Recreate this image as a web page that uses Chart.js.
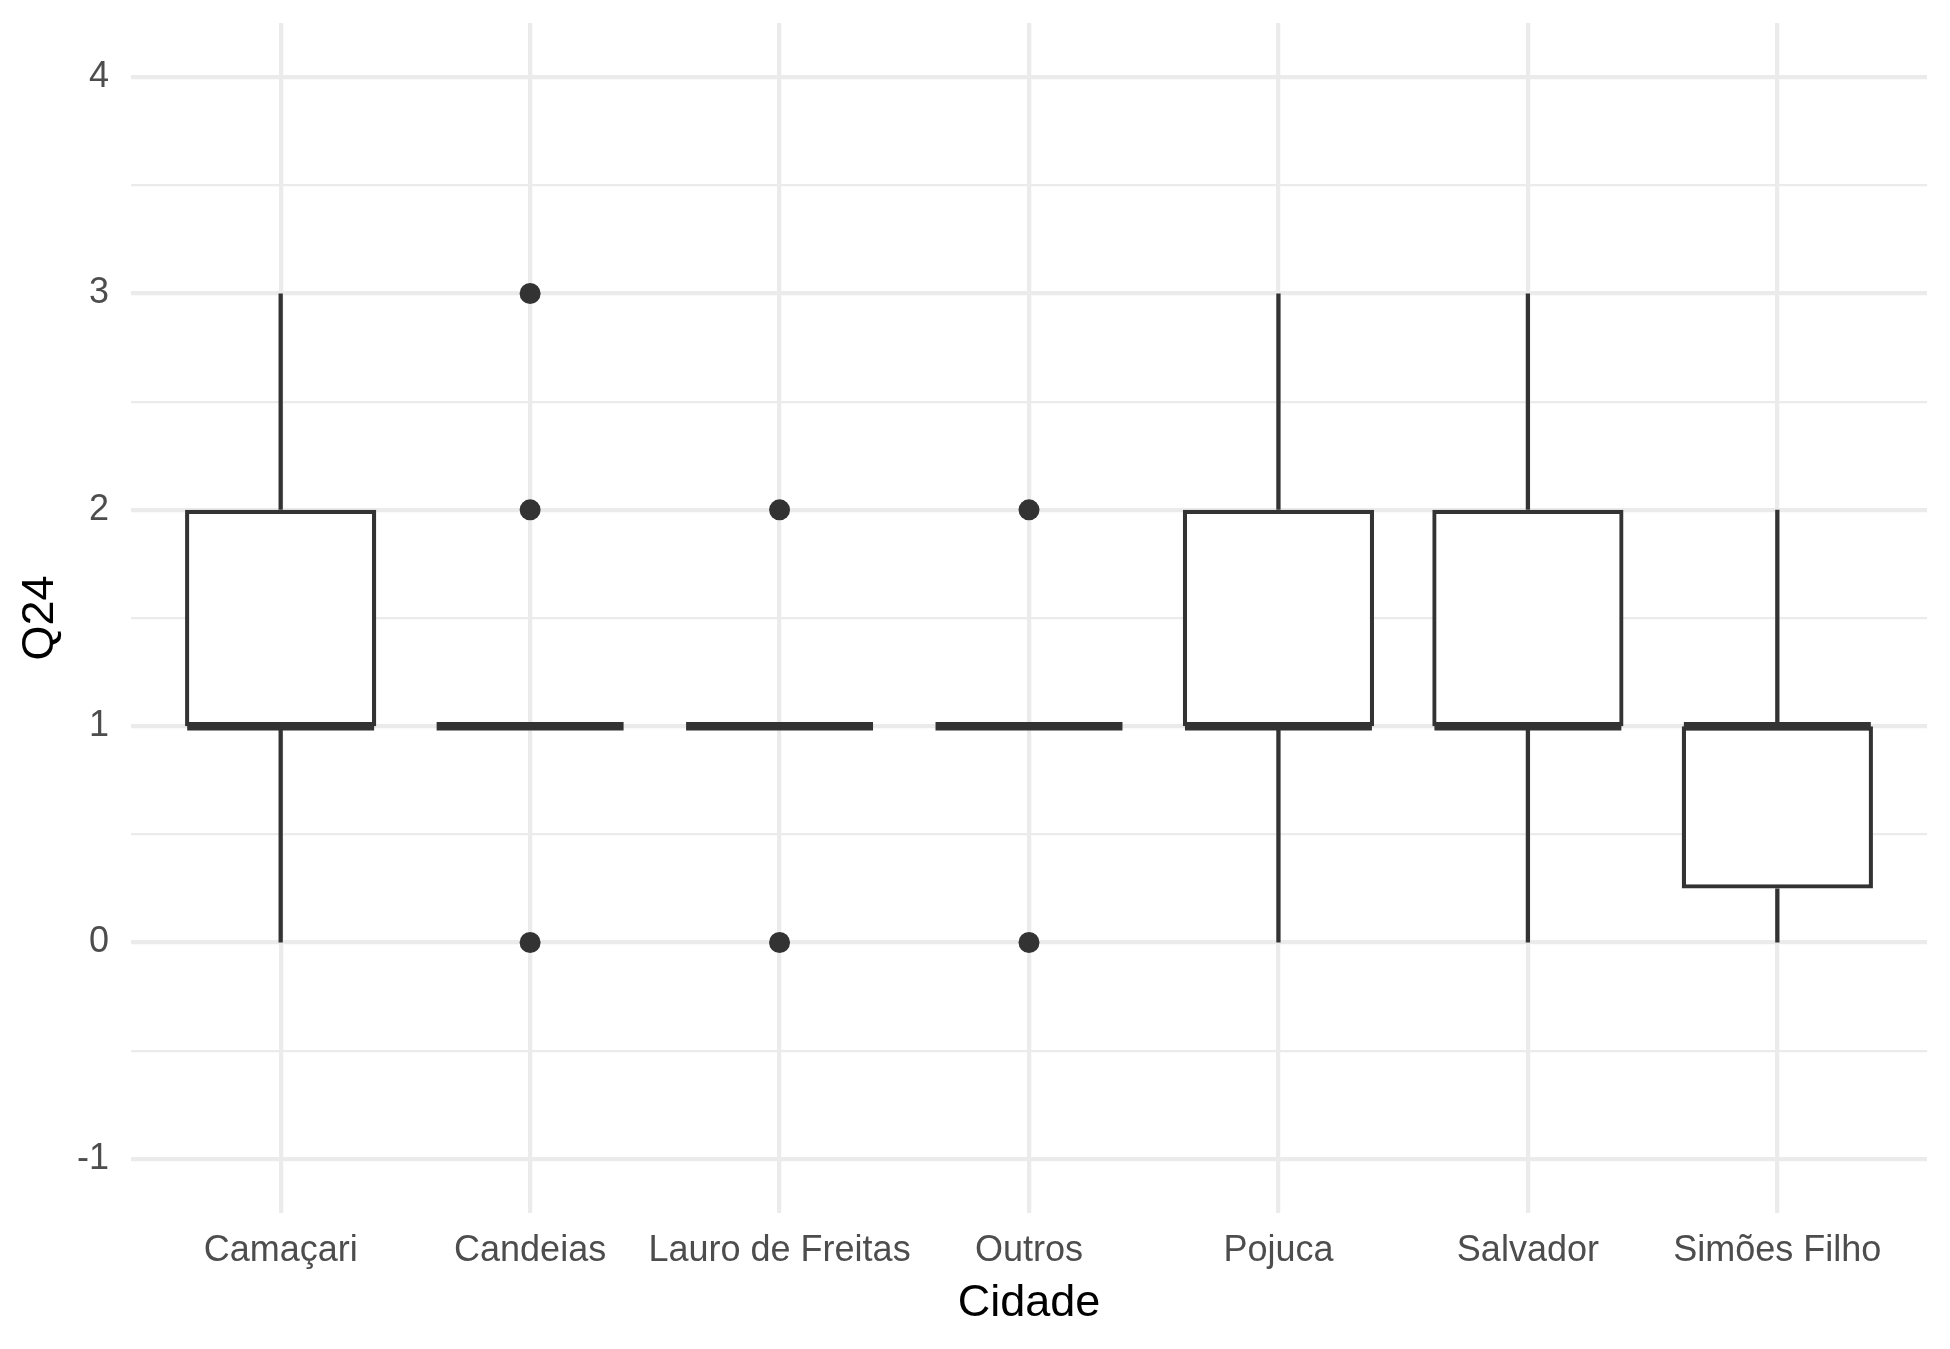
<!DOCTYPE html>
<html>
<head>
<meta charset="utf-8">
<script src="https://cdn.jsdelivr.net/npm/chart.js@4/dist/chart.umd.min.js"></script>
<style>
  html, body { margin: 0; padding: 0; background: #ffffff; }
  #wrap { width: 1950px; height: 1349px; }
</style>
</head>
<body>
<div id="wrap"><canvas id="c" width="1950" height="1349"></canvas></div>
<script>
// ---- data ----
const cities = ['Camaçari', 'Candeias', 'Lauro de Freitas', 'Outros', 'Pojuca', 'Salvador', 'Simões Filho'];
const whiskerLow  = [0, 1, 1, 1, 0, 0, 0];
const q1          = [1, 1, 1, 1, 1, 1, 0.25];
const medians     = [1, 1, 1, 1, 1, 1, 1];
const q3          = [2, 1, 1, 1, 2, 2, 1];
const whiskerHigh = [3, 1, 1, 1, 3, 3, 2];
const outliers    = [[], [0, 2, 3], [0, 2], [0, 2], [], [], []];
const yMajorTicks = [-1, 0, 1, 2, 3, 4];
const yMinorTicks = [-0.5, 0.5, 1.5, 2.5, 3.5];
const xTitle = 'Cidade';
const yTitle = 'Q24';

// ---- derived structures for the library ----
const boxData = cities.map((c, i) => ({ x: i + 1, y: [q1[i], q3[i]] }));
const whiskerData = [];
cities.forEach((c, i) => {
  whiskerData.push({ x: i + 1, y: whiskerLow[i] }, { x: i + 1, y: q1[i] }, { x: i + 1, y: null });
  whiskerData.push({ x: i + 1, y: q3[i] }, { x: i + 1, y: whiskerHigh[i] }, { x: i + 1, y: null });
});
const outlierData = [];
outliers.forEach((arr, i) => arr.forEach(v => outlierData.push({ x: i + 1, y: v })));

const INK = '#333333';
const LW = 4.27;
const FONT = "'Liberation Sans', Arial, Helvetica, sans-serif";

const medianPlugin = {
  id: 'medianLines',
  afterDatasetsDraw(chart) {
    const meta = chart.getDatasetMeta(1);
    const y = chart.scales.y;
    const ctx = chart.ctx;
    ctx.save();
    ctx.strokeStyle = INK;
    ctx.lineWidth = LW * 2;
    ctx.lineCap = 'butt';
    meta.data.forEach((el, i) => {
      const py = y.getPixelForValue(medians[i]);
      const half = el.width / 2 - LW / 2;
      ctx.beginPath();
      ctx.moveTo(el.x - half, py);
      ctx.lineTo(el.x + half, py);
      ctx.stroke();
    });
    ctx.restore();
  }
};

new Chart(document.getElementById('c'), {
  type: 'bar',
  data: {
    datasets: [
      {
        type: 'line',
        label: 'whiskers',
        data: whiskerData,
        borderColor: INK,
        borderWidth: LW,
        pointRadius: 0,
        spanGaps: false,
        fill: false,
        order: 3
      },
      {
        type: 'bar',
        label: 'boxes',
        data: boxData,
        backgroundColor: '#ffffff',
        borderColor: INK,
        borderWidth: LW,
        borderSkipped: false,
        categoryPercentage: 1,
        barPercentage: 0.7666,
        order: 2
      },
      {
        type: 'scatter',
        label: 'outliers',
        data: outlierData,
        backgroundColor: INK,
        borderWidth: 0,
        pointRadius: 10.5,
        order: 1
      }
    ]
  },
  options: {
    responsive: false,
    animation: false,
    devicePixelRatio: 1,
    layout: { padding: { left: 0, right: 23, top: 23, bottom: 0 } },
    plugins: { legend: { display: false }, tooltip: { enabled: false } },
    scales: {
      x: {
        type: 'linear',
        min: 0.4,
        max: 7.6,
        offset: false,
        afterBuildTicks: s => { s.ticks = cities.map((c, i) => ({ value: i + 1 })); },
        afterFit: s => { s.height = 136; s.paddingLeft = 0; s.paddingRight = 0; },
        grid: { color: '#EBEBEB', lineWidth: LW, drawTicks: false, offset: false },
        border: { display: false },
        ticks: {
          autoSkip: false,
          maxRotation: 0,
          minRotation: 0,
          padding: 16,
          color: '#4D4D4D',
          font: { family: FONT, size: 36 },
          callback: v => cities[v - 1]
        },
        title: {
          display: true,
          text: xTitle,
          color: '#000000',
          font: { family: FONT, size: 45, lineHeight: 1 },
          padding: { top: 0, bottom: 23 }
        }
      },
      y: {
        type: 'linear',
        min: -1.25,
        max: 4.25,
        afterBuildTicks: s => {
          s.ticks = yMajorTicks.concat(yMinorTicks).sort((a, b) => a - b).map(v => ({ value: v }));
        },
        afterFit: s => { s.width = 131; s.paddingTop = 0; s.paddingBottom = 0; },
        grid: {
          color: '#EBEBEB',
          drawTicks: false,
          lineWidth: c => (yMajorTicks.includes(c.tick.value) ? LW : LW / 2)
        },
        border: { display: false },
        ticks: {
          padding: 22,
          color: '#4D4D4D',
          font: { family: FONT, size: 36 },
          callback: v => (yMajorTicks.includes(v) ? String(v) : '')
        },
        title: {
          display: true,
          text: yTitle,
          color: '#000000',
          font: { family: FONT, size: 45, lineHeight: 1 },
          padding: { top: 18, bottom: 0 }
        }
      }
    }
  },
  plugins: [medianPlugin]
});
</script>
</body>
</html>
